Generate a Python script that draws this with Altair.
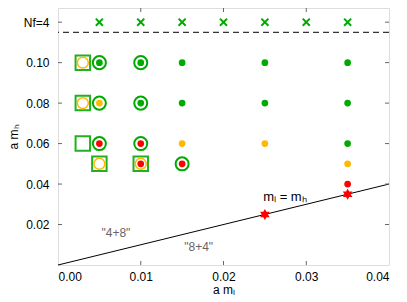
import altair as alt
import pandas as pd

GREEN = "#00aa00"
ORANGE = "#ffb800"
RED = "#ff0000"

# filled dots: (a m_l, a m_h, colour)
dot_x = [0.005, 0.01, 0.015, 0.025, 0.035,
         0.005, 0.01, 0.015, 0.025, 0.035,
         0.005, 0.01, 0.015, 0.025, 0.035,
         0.01, 0.015, 0.035,
         0.035]
dot_y = [0.10, 0.10, 0.10, 0.10, 0.10,
         0.08, 0.08, 0.08, 0.08, 0.08,
         0.06, 0.06, 0.06, 0.06, 0.06,
         0.05, 0.05, 0.05,
         0.04]
dot_c = ["g", "g", "g", "g", "g",
         "o", "g", "g", "g", "g",
         "r", "r", "o", "o", "g",
         "r", "r", "o",
         "r"]

# green rings
ring_x = [0.005, 0.01, 0.005, 0.01, 0.005, 0.01, 0.015]
ring_y = [0.10, 0.10, 0.08, 0.08, 0.06, 0.06, 0.05]

# green squares
sq_x = [0.003, 0.003, 0.003, 0.005, 0.01]
sq_y = [0.10, 0.08, 0.06, 0.05, 0.05]

# white circles with orange edge inside squares
wc_x = [0.003, 0.003, 0.005, 0.01]
wc_y = [0.10, 0.08, 0.05, 0.05]

# Nf=4 crosses
cross_x = [0.005, 0.01, 0.015, 0.02, 0.025, 0.03, 0.035]
cross_y = [0.12] * 7

# stars on m_l = m_h
star_x = [0.025, 0.035]
star_y = [0.025, 0.035]

line_x = [0.0, 0.04]
line_y = [0.0, 0.04]

x_ticks = [0.0, 0.01, 0.02, 0.03, 0.04]
y_ticks = [0.02, 0.04, 0.06, 0.08, 0.10, 0.12]

cmap = {"g": GREEN, "o": ORANGE, "r": RED}

xs = alt.Scale(domain=[0, 0.04], nice=False, zero=False)
ys = alt.Scale(domain=[0, 0.127], nice=False, zero=False)

X = alt.X("x:Q", scale=xs,
          axis=alt.Axis(values=x_ticks, format=".2f", title="a mₗ", ticks=False,
                        domain=False, grid=False, labelPadding=6, titlePadding=2,
                        labelFontSize=12, titleFontSize=12, titleFontWeight="normal",
                        labelFont="Liberation Sans", titleFont="Liberation Sans",
                        labelColor="black", titleColor="black"))
Y = alt.Y("y:Q", scale=ys,
          axis=alt.Axis(values=y_ticks, title="a mₕ", ticks=False, domain=False, grid=False,
                        labelExpr="datum.value > 0.11 ? 'Nf=4' : format(datum.value, '.2f')",
                        labelPadding=9, titlePadding=3, labelFontSize=12, titleFontSize=12,
                        titleFontWeight="normal", labelFont="Liberation Sans",
                        titleFont="Liberation Sans", labelColor="black", titleColor="black"))

dots = pd.DataFrame({"x": dot_x, "y": dot_y, "c": [cmap[c] for c in dot_c]})
rings = pd.DataFrame({"x": ring_x, "y": ring_y})
sqs = pd.DataFrame({"x": sq_x, "y": sq_y})
wcs = pd.DataFrame({"x": wc_x, "y": wc_y})
crosses = pd.DataFrame({"x": cross_x, "y": cross_y})
stars = pd.DataFrame({"x": star_x, "y": star_y})
line = pd.DataFrame({"x": line_x, "y": line_y})

base_line = alt.Chart(line).mark_line(color="black", strokeWidth=1).encode(x=X, y=Y)

dashed = alt.Chart(pd.DataFrame({"y": [0.115]})).mark_rule(
    color="black", strokeDash=[6, 4], strokeWidth=1).encode(y=alt.Y("y:Q", scale=ys))

sq_layer = alt.Chart(sqs).mark_point(shape="square", size=210, filled=False,
                                     color="#22b022", strokeWidth=2, opacity=1).encode(
    x=alt.X("x:Q", scale=xs), y=alt.Y("y:Q", scale=ys))
wc_layer = alt.Chart(wcs).mark_point(shape="circle", size=120, filled=True, fill="white",
                                     stroke=ORANGE, strokeWidth=1.5, opacity=1).encode(
    x=alt.X("x:Q", scale=xs), y=alt.Y("y:Q", scale=ys))
ring_layer = alt.Chart(rings).mark_point(shape="circle", size=170, filled=False,
                                         color=GREEN, strokeWidth=2, opacity=1).encode(
    x=alt.X("x:Q", scale=xs), y=alt.Y("y:Q", scale=ys))
dot_layer = alt.Chart(dots).mark_point(shape="circle", size=45, filled=True, opacity=1,
                                       strokeWidth=0).encode(
    x=alt.X("x:Q", scale=xs), y=alt.Y("y:Q", scale=ys),
    fill=alt.Fill("c:N", scale=None))
cross_layer = alt.Chart(crosses).mark_point(shape="M-1,-1L1,1M-1,1L1,-1", size=50,
                                            filled=False, color=GREEN, strokeWidth=2,
                                            opacity=1).encode(
    x=alt.X("x:Q", scale=xs), y=alt.Y("y:Q", scale=ys))
HEX = ("M0,-1L0.289,-0.5L0.866,-0.5L0.577,0L0.866,0.5L0.289,0.5L0,1"
       "L-0.289,0.5L-0.866,0.5L-0.577,0L-0.866,-0.5L-0.289,-0.5Z")
star_layer = alt.Chart(stars).mark_point(
    shape=HEX, size=120, filled=True, color=RED, opacity=1, strokeWidth=0).encode(
    x=alt.X("x:Q", scale=xs), y=alt.Y("y:Q", scale=ys))

labels = pd.DataFrame({"x": [0.0070, 0.0170], "y": [0.0158, 0.0089],
                       "t": ['"4+8"', '"8+4"']})
lab_layer = alt.Chart(labels).mark_text(fontSize=12, color="#666666",
                                        font="Liberation Sans").encode(
    x=alt.X("x:Q", scale=xs), y=alt.Y("y:Q", scale=ys), text="t:N")
eq = pd.DataFrame({"x": [0.0248], "y": [0.0335], "t": ["mₗ = mₕ"]})
eq_layer = alt.Chart(eq).mark_text(fontSize=13, color="black", align="left",
                                   font="Liberation Sans").encode(
    x=alt.X("x:Q", scale=xs), y=alt.Y("y:Q", scale=ys), text="t:N")

# inward ticks
TL = 4
yt = pd.DataFrame({"y": y_ticks})
xt = pd.DataFrame({"x": x_ticks[1:-1]})
W, H = 331, 257
tick_style = dict(color="#666666", strokeWidth=1)
lt = alt.Chart(yt).mark_rule(**tick_style).encode(
    y=alt.Y("y:Q", scale=ys), x=alt.value(0), x2=alt.value(TL))
rt = alt.Chart(yt).mark_rule(**tick_style).encode(
    y=alt.Y("y:Q", scale=ys), x=alt.value(W - TL), x2=alt.value(W))
bt = alt.Chart(xt).mark_rule(**tick_style).encode(
    x=alt.X("x:Q", scale=xs), y=alt.value(H), y2=alt.value(H - TL))
tt = alt.Chart(xt).mark_rule(**tick_style).encode(
    x=alt.X("x:Q", scale=xs), y=alt.value(0), y2=alt.value(TL))

chart = alt.layer(
    base_line, dashed, lt, rt, bt, tt,
    sq_layer, wc_layer, ring_layer, dot_layer, cross_layer, star_layer,
    lab_layer, eq_layer
).properties(
    width=W, height=H,
    autosize=alt.AutoSizeParams(type="none"),
    padding={"left": 50, "top": 0, "right": 10, "bottom": 30},
).configure_view(stroke="#888888", strokeWidth=2).configure(background="white")

chart.save("out.html", embed_options={"renderer": "svg", "actions": False})
